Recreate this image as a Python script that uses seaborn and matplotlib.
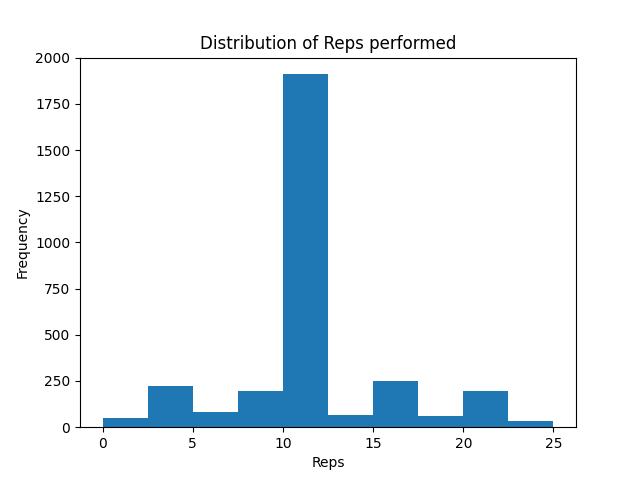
import matplotlib
matplotlib.use("Agg")
import matplotlib.pyplot as plt
import seaborn as sns
import numpy as np

bin_centers = [1.25, 3.75, 6.25, 8.75, 11.25, 13.75, 16.25, 18.75, 21.25, 23.75]
counts = [49, 224, 82, 196, 1913, 66, 250, 60, 196, 33]

fig, ax = plt.subplots(figsize=(6.4, 4.8), dpi=100)
sns.histplot(x=bin_centers, weights=counts, bins=10, binrange=(0, 25),
             color="#1f77b4", alpha=1, linewidth=0, ax=ax)
ax.set_ylim(0, 2000)
ax.set_title("Distribution of Reps performed")
ax.set_xlabel("Reps")
ax.set_ylabel("Frequency")
fig.savefig("out.png", dpi=100)
